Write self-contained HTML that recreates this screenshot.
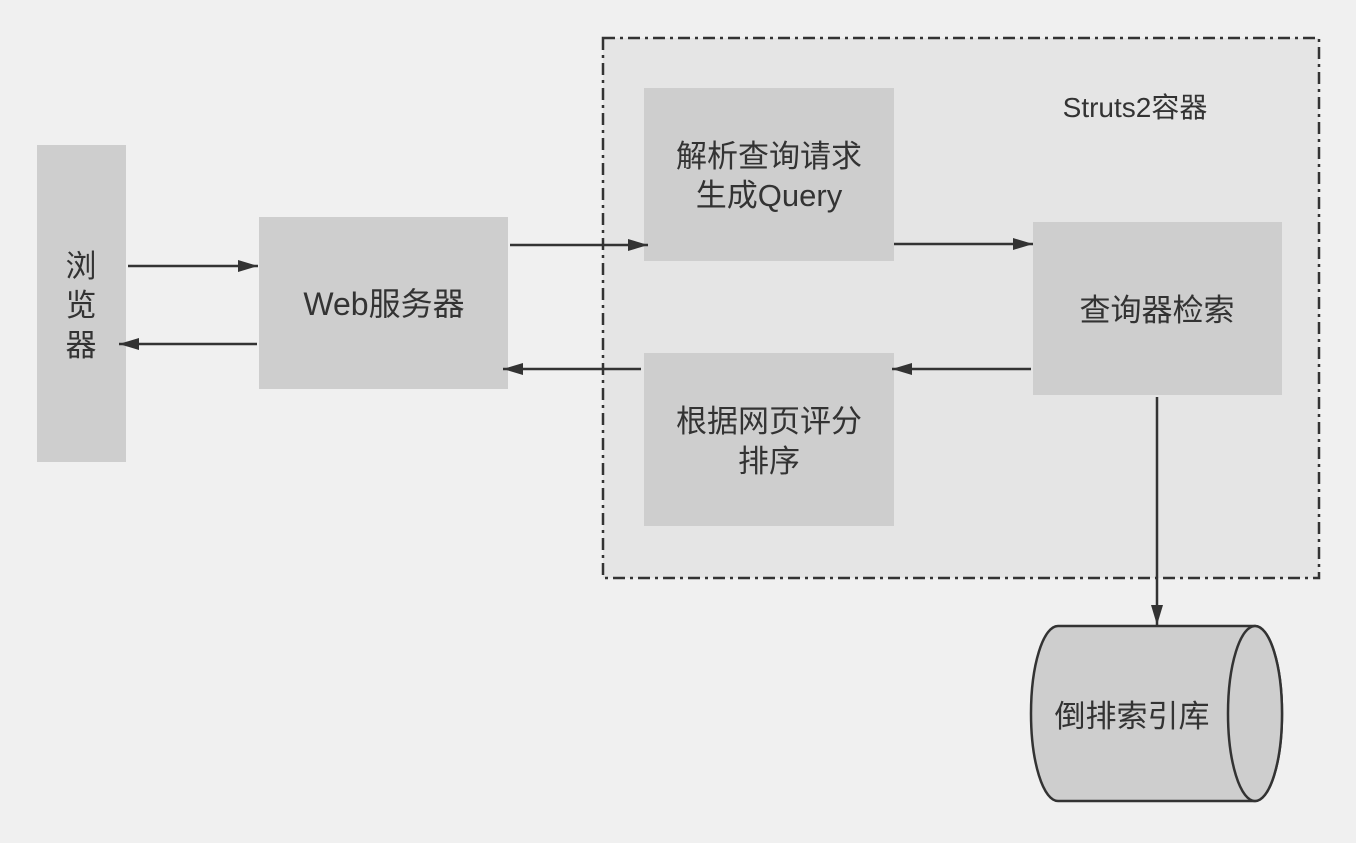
<!DOCTYPE html>
<html><head><meta charset="utf-8"><style>
body{margin:0;background:#f0f0f0;}
svg text{font-family:"Liberation Sans","Noto Sans CJK SC",sans-serif;fill:#333;}
</style></head><body>
<svg width="1356" height="838" viewBox="0 0 1356 838" xmlns="http://www.w3.org/2000/svg">
<defs>
<marker id="b" viewBox="0 0 20 12" markerWidth="20" markerHeight="12" refX="20" refY="6" orient="auto" markerUnits="userSpaceOnUse"><path d="M0,0 L20,6 L0,12 Z" fill="#333"/></marker></defs>
<rect x="603" y="38" width="716" height="540" fill="#e5e5e5" stroke="#333" stroke-width="2.5" stroke-dasharray="12,5,3,5"/>
<text x="1135" y="117" font-size="28" text-anchor="middle">Struts2容器</text>
<rect x="37" y="145" width="89" height="317" fill="#cecece"/>
<text x="81" y="277" font-size="31" text-anchor="middle">浏</text>
<text x="81" y="316" font-size="31" text-anchor="middle">览</text>
<text x="81" y="356" font-size="31" text-anchor="middle">器</text>
<rect x="259" y="217" width="249" height="172" fill="#cecece"/>
<text x="384" y="315" font-size="32" text-anchor="middle">Web服务器</text>
<rect x="644" y="88" width="250" height="173" fill="#cecece"/>
<text x="769" y="167" font-size="31" text-anchor="middle">解析查询请求</text>
<text x="769" y="206" font-size="31" text-anchor="middle">生成Query</text>
<rect x="1033" y="222" width="249" height="173" fill="#cecece"/>
<text x="1157" y="321" font-size="31" text-anchor="middle">查询器检索</text>
<rect x="644" y="353" width="250" height="173" fill="#cecece"/>
<text x="769" y="432" font-size="31" text-anchor="middle">根据网页评分</text>
<text x="769" y="472" font-size="31" text-anchor="middle">排序</text>
<path d="M1058,626 L1255,626 A27,87.5 0 0 1 1255,801 L1058,801 A27,87.5 0 0 1 1058,626 Z" fill="#cecece" stroke="#333" stroke-width="2.5"/>
<ellipse cx="1255" cy="713.5" rx="27" ry="87.5" fill="#cecece" stroke="#333" stroke-width="2.5"/>
<text x="1132" y="727" font-size="31" text-anchor="middle">倒排索引库</text>
<g stroke="#333" stroke-width="2.5" fill="none">
<line x1="128" y1="266" x2="258" y2="266" marker-end="url(#b)"/>
<line x1="257" y1="344" x2="119" y2="344" marker-end="url(#b)"/>
<line x1="510" y1="245" x2="648" y2="245" marker-end="url(#b)"/>
<line x1="894" y1="244" x2="1033" y2="244" marker-end="url(#b)"/>
<line x1="1031" y1="369" x2="892" y2="369" marker-end="url(#b)"/>
<line x1="641" y1="369" x2="503" y2="369" marker-end="url(#b)"/>
<line x1="1157" y1="397" x2="1157" y2="625" marker-end="url(#b)"/>
</g>
</svg>
</body></html>
